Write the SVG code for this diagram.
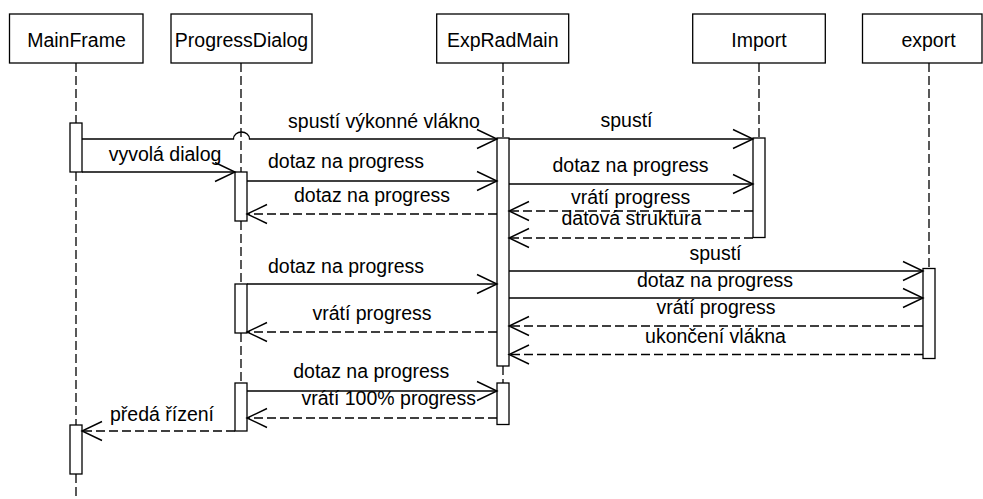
<svg xmlns="http://www.w3.org/2000/svg" width="983" height="499" viewBox="0 0 983 499">
<style>
text{font-family:"Liberation Sans",Arial,sans-serif;font-size:19.5px;fill:#000;text-anchor:middle}
.box{fill:#fff;stroke:#000;stroke-width:1.3}
.life{fill:none;stroke:#000;stroke-width:1.3;stroke-dasharray:9 4}
.act{fill:#fff;stroke:#000;stroke-width:1.3}
.msg{fill:none;stroke:#000;stroke-width:1.3;marker-end:url(#arr)}
.ret{fill:none;stroke:#000;stroke-width:1.3;stroke-dasharray:9 4;marker-end:url(#arr)}
</style>
<defs>
<marker id="arr" markerUnits="userSpaceOnUse" markerWidth="24" markerHeight="24" refX="0" refY="0" viewBox="-22 -12 24 24" orient="auto" overflow="visible">
<path d="M-20,-9.5 L0,0 L-20,9.5" fill="none" stroke="#000" stroke-width="1.4" stroke-dasharray="none"/>
</marker>
</defs>
<rect width="983" height="499" fill="#fff"/>
<g id="lifelines">
<path class="life" d="M76,63 V123 M76,172 V425 M76,474 V499"/>
<path class="life" d="M241,63 V172 M241,221 V284 M241,333 V383"/>
<path class="life" d="M503,63 V138 M503,366 V383"/>
<path class="life" d="M759,63 V138"/>
<path class="life" d="M929,63 V268.5"/>
</g>
<g id="MainFrame">
<rect class="box" x="9.5" y="14" width="133.5" height="49"/>
<text x="76.5" y="46.5">MainFrame</text>
<rect class="act" x="70" y="123" width="12" height="49"/>
<rect class="act" x="70" y="425" width="12" height="49"/>
</g>
<g id="ProgressDialog">
<rect class="box" x="171" y="14" width="141" height="49"/>
<text x="241.5" y="46.5">ProgressDialog</text>
<rect class="act" x="235" y="172" width="12" height="49"/>
<rect class="act" x="235" y="284" width="12" height="49"/>
<rect class="act" x="235" y="383" width="12" height="48"/>
</g>
<g id="ExpRadMain">
<rect class="box" x="436.7" y="14" width="132" height="49"/>
<text x="502.7" y="46.5">ExpRadMain</text>
<rect class="act" x="497" y="138" width="12" height="228"/>
<rect class="act" x="497" y="383" width="12" height="41.5"/>
</g>
<g id="Import">
<rect class="box" x="692.7" y="14" width="132.6" height="49"/>
<text x="759" y="46.5">Import</text>
<rect class="act" x="753" y="138" width="12" height="99.5"/>
</g>
<g id="export">
<rect class="box" x="862.5" y="14" width="119.5" height="49"/>
<text x="928.5" y="46.5">export</text>
<rect class="act" x="923" y="268.5" width="12" height="90"/>
</g>
<g id="connectors">
<path class="msg" d="M82,139 H233.5 A8,7 0 0 1 249.5,139 H497"/>
<path class="msg" d="M82,172 H235"/>
<path class="msg" d="M247,181 H497"/>
<path class="ret" d="M497,214 H247"/>
<path class="msg" d="M509,139 H753"/>
<path class="msg" d="M509,184 H753"/>
<path class="ret" d="M753,211 H509"/>
<path class="ret" d="M753,238 H509"/>
<path class="msg" d="M509,271 H923"/>
<path class="msg" d="M509,298 H923"/>
<path class="ret" d="M923,326 H509"/>
<path class="ret" d="M923,354.5 H509"/>
<path class="msg" d="M247,284 H497"/>
<path class="ret" d="M497,332 H247"/>
<path class="msg" d="M247,391 H497"/>
<path class="ret" d="M497,418 H247"/>
<path class="ret" d="M235,431 H82"/>
</g>
<g id="labels">
<text x="384" y="128">spustí výkonné vlákno</text>
<text x="165" y="160.5">vyvolá dialog</text>
<text x="346" y="168">dotaz na progress</text>
<text x="372" y="201.5">dotaz na progress</text>
<text x="626.5" y="126.5">spustí</text>
<text x="630.5" y="171.5">dotaz na progress</text>
<text x="630.7" y="204">vrátí progress</text>
<text x="631.4" y="225">datová struktura</text>
<text x="715.5" y="260">spustí</text>
<text x="715" y="286.7">dotaz na progress</text>
<text x="716" y="314">vrátí progress</text>
<text x="715.5" y="342.7">ukončení vlákna</text>
<text x="346" y="273.3">dotaz na progress</text>
<text x="372" y="320">vrátí progress</text>
<text x="371.3" y="378.3">dotaz na progress</text>
<text x="388.7" y="405">vrátí 100% progress</text>
<text x="162" y="421">předá řízení</text>
</g>
</svg>
